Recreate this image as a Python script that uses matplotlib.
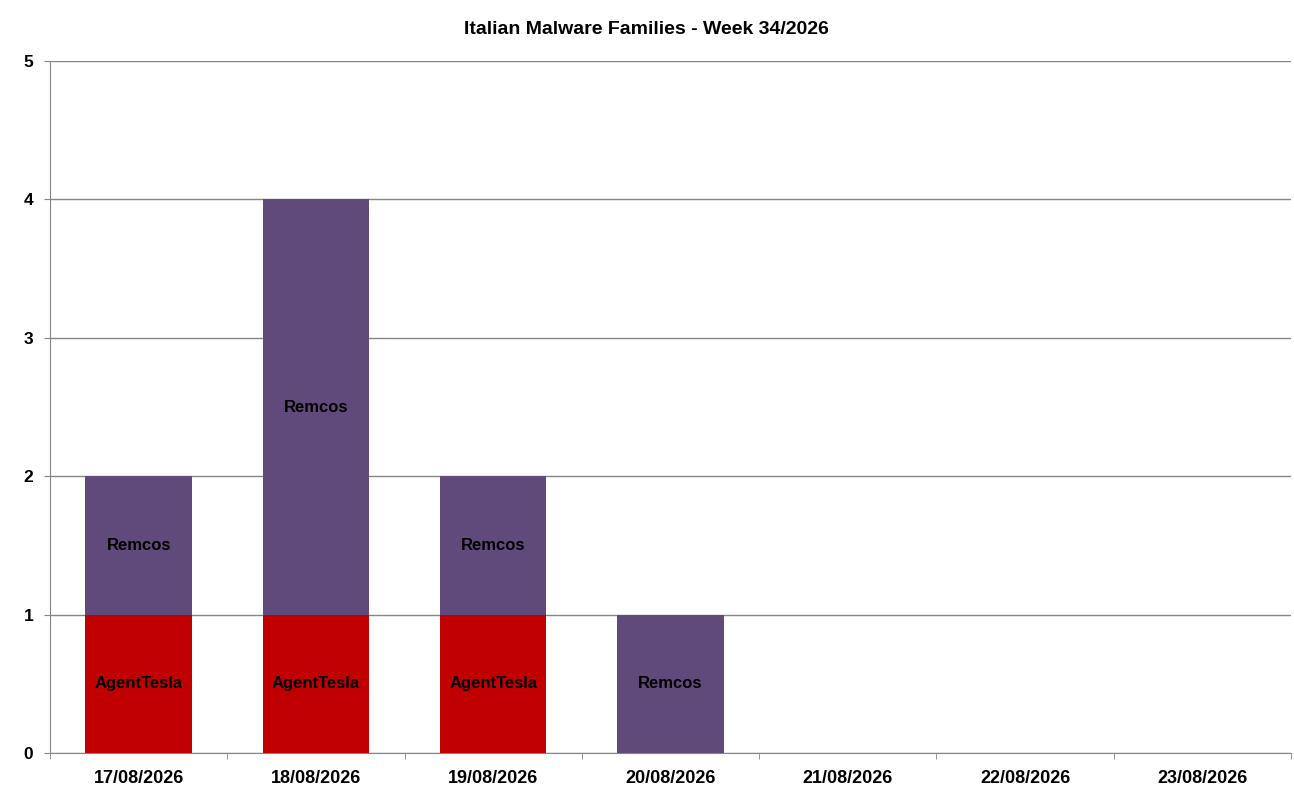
import numpy as np
import matplotlib
matplotlib.use("Agg")
import matplotlib.pyplot as plt
from matplotlib.ticker import FixedLocator

plt.rcParams['font.family'] = ['Liberation Sans', 'DejaVu Sans']

# data
dates = ['17/08/2026', '18/08/2026', '19/08/2026', '20/08/2026',
         '21/08/2026', '22/08/2026', '23/08/2026']
agenttesla = [1, 1, 1, 0, 0, 0, 0]
remcos = [1, 3, 1, 1, 0, 0, 0]
title = 'Italian Malware Families - Week 34/2026'

red = '#C00000'
purple = '#604A7B'
grey = '#868686'

fig = plt.figure(figsize=(12.94, 7.93), dpi=100)
ax = fig.add_axes([50/1294, 40/793, (1291-50)/1294, (753-61)/793])

x = np.arange(len(dates))
w = 0.6
ax.bar(x, agenttesla, w, color=red, zorder=3)
ax.bar(x, remcos, w, bottom=agenttesla, color=purple, zorder=3)

# segment labels
for i in x:
    if agenttesla[i] > 0:
        ax.text(i, agenttesla[i] / 2, 'AgentTesla', ha='center', va='center',
                fontsize=12, fontweight='bold', zorder=4)
    if remcos[i] > 0:
        ax.text(i, agenttesla[i] + remcos[i] / 2, 'Remcos', ha='center', va='center',
                fontsize=12, fontweight='bold', zorder=4)

ax.set_xlim(-0.5, len(dates) - 0.5)
ax.set_ylim(0, 5)
ax.set_yticks(range(6))
ax.yaxis.grid(True, color=grey, linewidth=1)
ax.set_axisbelow(True)

ax.set_xticks(x)
ax.set_xticklabels(dates, fontsize=13, fontweight='bold')
ax.xaxis.set_minor_locator(FixedLocator(np.arange(-0.5, len(dates), 1.0)))
ax.tick_params(axis='x', which='major', length=0, pad=12)
ax.tick_params(axis='x', which='minor', length=4, color=grey)
ax.tick_params(axis='y', length=4, color=grey, labelsize=12.5, pad=8)
for lab in ax.get_yticklabels():
    lab.set_fontweight('bold')

for s in ['top', 'right']:
    ax.spines[s].set_visible(False)
for s in ['left', 'bottom']:
    ax.spines[s].set_color(grey)

fig.text(646/1294, 1 - 30/793, title, ha='center', va='center',
         fontsize=14, fontweight='bold')

fig.savefig('out.png', dpi=100)
